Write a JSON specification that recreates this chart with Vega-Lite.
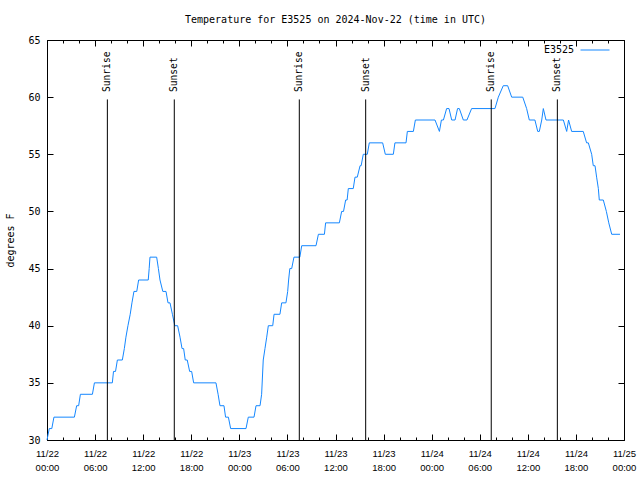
{
  "$schema": "https://vega.github.io/schema/vega-lite/v6.json",
  "width": 577,
  "height": 400,
  "autosize": {"type": "none"},
  "padding": {"left": 47, "top": 40, "right": 16, "bottom": 40},
  "background": "white",
  "config": {
    "view": {"stroke": "#000", "strokeWidth": 1},
    "font": "DejaVu Sans Mono",
    "axis": {
      "labelFont": "DejaVu Sans Mono",
      "labelFontSize": 10,
      "labelColor": "#000",
      "titleFont": "DejaVu Sans Mono",
      "titleFontSize": 10,
      "titleFontWeight": "normal",
      "titleColor": "#000",
      "ticks": true,
      "tickColor": "#000000",
      "tickOpacity": 1,
      "tickWidth": 1,
      "grid": false,
      "domain": false,
      "zindex": 2
    }
  },
  "title": {
    "text": "Temperature for E3525 on 2024-Nov-22 (time in UTC)",
    "font": "DejaVu Sans Mono",
    "fontSize": 10,
    "fontWeight": "normal",
    "color": "#000",
    "anchor": "middle",
    "offset": 10
  },
  "datasets": {
    "temps": [
      {"t": "2024-11-22T00:00:00Z", "temp": 30},
      {"t": "2024-11-22T00:17:00Z", "temp": 31},
      {"t": "2024-11-22T00:36:00Z", "temp": 31},
      {"t": "2024-11-22T00:52:00Z", "temp": 32},
      {"t": "2024-11-22T03:25:00Z", "temp": 32},
      {"t": "2024-11-22T03:42:00Z", "temp": 33},
      {"t": "2024-11-22T03:57:00Z", "temp": 33},
      {"t": "2024-11-22T04:10:00Z", "temp": 34},
      {"t": "2024-11-22T05:40:00Z", "temp": 34},
      {"t": "2024-11-22T05:55:00Z", "temp": 35},
      {"t": "2024-11-22T08:09:00Z", "temp": 35},
      {"t": "2024-11-22T08:18:00Z", "temp": 36},
      {"t": "2024-11-22T08:33:00Z", "temp": 36},
      {"t": "2024-11-22T08:47:00Z", "temp": 37},
      {"t": "2024-11-22T09:24:00Z", "temp": 37},
      {"t": "2024-11-22T09:39:00Z", "temp": 38},
      {"t": "2024-11-22T09:51:00Z", "temp": 39},
      {"t": "2024-11-22T10:06:00Z", "temp": 40},
      {"t": "2024-11-22T10:23:00Z", "temp": 41},
      {"t": "2024-11-22T10:36:00Z", "temp": 42},
      {"t": "2024-11-22T10:51:00Z", "temp": 43},
      {"t": "2024-11-22T11:12:00Z", "temp": 43},
      {"t": "2024-11-22T11:26:00Z", "temp": 44},
      {"t": "2024-11-22T12:38:00Z", "temp": 44},
      {"t": "2024-11-22T12:45:00Z", "temp": 45},
      {"t": "2024-11-22T12:51:00Z", "temp": 46},
      {"t": "2024-11-22T13:41:00Z", "temp": 46},
      {"t": "2024-11-22T13:54:00Z", "temp": 45},
      {"t": "2024-11-22T14:06:00Z", "temp": 44},
      {"t": "2024-11-22T14:27:00Z", "temp": 43},
      {"t": "2024-11-22T14:51:00Z", "temp": 43},
      {"t": "2024-11-22T15:06:00Z", "temp": 42},
      {"t": "2024-11-22T15:21:00Z", "temp": 42},
      {"t": "2024-11-22T15:39:00Z", "temp": 41},
      {"t": "2024-11-22T15:57:00Z", "temp": 40},
      {"t": "2024-11-22T16:18:00Z", "temp": 40},
      {"t": "2024-11-22T16:36:00Z", "temp": 39},
      {"t": "2024-11-22T16:51:00Z", "temp": 38},
      {"t": "2024-11-22T17:03:00Z", "temp": 38},
      {"t": "2024-11-22T17:15:00Z", "temp": 37},
      {"t": "2024-11-22T17:30:00Z", "temp": 37},
      {"t": "2024-11-22T17:48:00Z", "temp": 36},
      {"t": "2024-11-22T18:03:00Z", "temp": 36},
      {"t": "2024-11-22T18:18:00Z", "temp": 35},
      {"t": "2024-11-22T21:05:00Z", "temp": 35},
      {"t": "2024-11-22T21:21:00Z", "temp": 34},
      {"t": "2024-11-22T21:35:00Z", "temp": 33},
      {"t": "2024-11-22T22:05:00Z", "temp": 33},
      {"t": "2024-11-22T22:17:00Z", "temp": 32},
      {"t": "2024-11-22T22:38:00Z", "temp": 32},
      {"t": "2024-11-22T22:55:00Z", "temp": 31},
      {"t": "2024-11-23T00:50:00Z", "temp": 31},
      {"t": "2024-11-23T01:07:00Z", "temp": 32},
      {"t": "2024-11-23T01:50:00Z", "temp": 32},
      {"t": "2024-11-23T02:05:00Z", "temp": 33},
      {"t": "2024-11-23T02:35:00Z", "temp": 33},
      {"t": "2024-11-23T02:47:00Z", "temp": 34},
      {"t": "2024-11-23T02:59:00Z", "temp": 37},
      {"t": "2024-11-23T03:12:00Z", "temp": 38},
      {"t": "2024-11-23T03:25:00Z", "temp": 39},
      {"t": "2024-11-23T03:37:00Z", "temp": 40},
      {"t": "2024-11-23T04:10:00Z", "temp": 40},
      {"t": "2024-11-23T04:20:00Z", "temp": 41},
      {"t": "2024-11-23T05:04:00Z", "temp": 41},
      {"t": "2024-11-23T05:17:00Z", "temp": 42},
      {"t": "2024-11-23T05:49:00Z", "temp": 42},
      {"t": "2024-11-23T06:02:00Z", "temp": 43},
      {"t": "2024-11-23T06:09:00Z", "temp": 44},
      {"t": "2024-11-23T06:18:00Z", "temp": 45},
      {"t": "2024-11-23T06:32:00Z", "temp": 45},
      {"t": "2024-11-23T06:49:00Z", "temp": 46},
      {"t": "2024-11-23T07:33:00Z", "temp": 46},
      {"t": "2024-11-23T07:47:00Z", "temp": 47},
      {"t": "2024-11-23T09:34:00Z", "temp": 47},
      {"t": "2024-11-23T09:52:00Z", "temp": 48},
      {"t": "2024-11-23T10:37:00Z", "temp": 48},
      {"t": "2024-11-23T10:46:00Z", "temp": 49},
      {"t": "2024-11-23T12:29:00Z", "temp": 49},
      {"t": "2024-11-23T12:46:00Z", "temp": 50},
      {"t": "2024-11-23T13:00:00Z", "temp": 50},
      {"t": "2024-11-23T13:16:00Z", "temp": 51},
      {"t": "2024-11-23T13:27:00Z", "temp": 51},
      {"t": "2024-11-23T13:36:00Z", "temp": 52},
      {"t": "2024-11-23T14:13:00Z", "temp": 52},
      {"t": "2024-11-23T14:26:00Z", "temp": 53},
      {"t": "2024-11-23T14:43:00Z", "temp": 53},
      {"t": "2024-11-23T15:04:00Z", "temp": 54},
      {"t": "2024-11-23T15:12:00Z", "temp": 54},
      {"t": "2024-11-23T15:28:00Z", "temp": 55},
      {"t": "2024-11-23T15:58:00Z", "temp": 55},
      {"t": "2024-11-23T16:13:00Z", "temp": 56},
      {"t": "2024-11-23T17:53:00Z", "temp": 56},
      {"t": "2024-11-23T18:13:00Z", "temp": 55},
      {"t": "2024-11-23T19:13:00Z", "temp": 55},
      {"t": "2024-11-23T19:25:00Z", "temp": 56},
      {"t": "2024-11-23T20:48:00Z", "temp": 56},
      {"t": "2024-11-23T20:58:00Z", "temp": 57},
      {"t": "2024-11-23T21:43:00Z", "temp": 57},
      {"t": "2024-11-23T21:58:00Z", "temp": 58},
      {"t": "2024-11-24T00:25:00Z", "temp": 58},
      {"t": "2024-11-24T00:58:00Z", "temp": 57},
      {"t": "2024-11-24T01:13:00Z", "temp": 58},
      {"t": "2024-11-24T01:28:00Z", "temp": 58},
      {"t": "2024-11-24T01:52:00Z", "temp": 59},
      {"t": "2024-11-24T02:10:00Z", "temp": 59},
      {"t": "2024-11-24T02:30:00Z", "temp": 58},
      {"t": "2024-11-24T02:55:00Z", "temp": 58},
      {"t": "2024-11-24T03:14:00Z", "temp": 59},
      {"t": "2024-11-24T03:27:00Z", "temp": 59},
      {"t": "2024-11-24T03:57:00Z", "temp": 58},
      {"t": "2024-11-24T04:24:00Z", "temp": 58},
      {"t": "2024-11-24T04:59:00Z", "temp": 59},
      {"t": "2024-11-24T07:54:00Z", "temp": 59},
      {"t": "2024-11-24T08:19:00Z", "temp": 60},
      {"t": "2024-11-24T08:56:00Z", "temp": 61},
      {"t": "2024-11-24T09:29:00Z", "temp": 61},
      {"t": "2024-11-24T09:59:00Z", "temp": 60},
      {"t": "2024-11-24T11:22:00Z", "temp": 60},
      {"t": "2024-11-24T11:51:00Z", "temp": 59},
      {"t": "2024-11-24T12:11:00Z", "temp": 58},
      {"t": "2024-11-24T12:53:00Z", "temp": 58},
      {"t": "2024-11-24T13:14:00Z", "temp": 57},
      {"t": "2024-11-24T13:26:00Z", "temp": 57},
      {"t": "2024-11-24T13:44:00Z", "temp": 58},
      {"t": "2024-11-24T13:56:00Z", "temp": 59},
      {"t": "2024-11-24T14:16:00Z", "temp": 58},
      {"t": "2024-11-24T16:26:00Z", "temp": 58},
      {"t": "2024-11-24T16:51:00Z", "temp": 57},
      {"t": "2024-11-24T17:05:00Z", "temp": 58},
      {"t": "2024-11-24T17:28:00Z", "temp": 57},
      {"t": "2024-11-24T18:55:00Z", "temp": 57},
      {"t": "2024-11-24T19:20:00Z", "temp": 56},
      {"t": "2024-11-24T19:33:00Z", "temp": 56},
      {"t": "2024-11-24T19:58:00Z", "temp": 55},
      {"t": "2024-11-24T20:10:00Z", "temp": 54},
      {"t": "2024-11-24T20:23:00Z", "temp": 54},
      {"t": "2024-11-24T20:35:00Z", "temp": 53},
      {"t": "2024-11-24T20:48:00Z", "temp": 52},
      {"t": "2024-11-24T20:55:00Z", "temp": 51},
      {"t": "2024-11-24T21:25:00Z", "temp": 51},
      {"t": "2024-11-24T21:48:00Z", "temp": 50},
      {"t": "2024-11-24T22:06:00Z", "temp": 49},
      {"t": "2024-11-24T22:28:00Z", "temp": 48},
      {"t": "2024-11-24T23:30:00Z", "temp": 48}
    ],
    "sun": [
      {"t": "2024-11-22T07:32:00Z", "event": "Sunrise"},
      {"t": "2024-11-22T15:53:00Z", "event": "Sunset"},
      {"t": "2024-11-23T07:29:00Z", "event": "Sunrise"},
      {"t": "2024-11-23T15:46:00Z", "event": "Sunset"},
      {"t": "2024-11-24T07:26:00Z", "event": "Sunrise"},
      {"t": "2024-11-24T15:41:00Z", "event": "Sunset"}
    ]
  },
  "layer": [
    {
      "data": {"name": "temps"},
      "mark": {"type": "line", "strokeWidth": 1},
      "encoding": {
        "x": {
          "field": "t",
          "type": "temporal",
          "scale": {"type": "utc", "domain": [1732233600000, 1732492800000]},
          "axis": {
            "orient": "bottom",
            "title": null,
            "values": [1732233600000, 1732255200000, 1732276800000, 1732298400000, 1732320000000, 1732341600000, 1732363200000, 1732384800000, 1732406400000, 1732428000000, 1732449600000, 1732471200000, 1732492800000],
            "labelExpr": "[(utcmonth(datum.value) + 1) + '/' + utcdate(datum.value), (utchours(datum.value) < 10 ? '0' : '') + utchours(datum.value) + ':00']",
            "offset": -6,
            "ticks": true,
            "tickSize": 6,
            "labelPadding": 8,
            "labelFont": "Liberation Sans",
            "labelFontSize": 9.5,
            "labelLineHeight": 14,
            "labelBaseline": "top",
            "labelDx": -5,
            "labelFlush": false,
            "labelOverlap": false
          }
        },
        "y": {
          "field": "temp",
          "type": "quantitative",
          "scale": {"domain": [30, 65], "nice": false, "zero": false},
          "axis": {
            "orient": "left",
            "title": "degrees F",
            "values": [30, 35, 40, 45, 50, 55, 60, 65],
            "offset": -6,
            "ticks": true,
            "tickSize": 6,
            "labelPadding": 7,
            "titlePadding": 12
          }
        },
        "color": {
          "datum": "E3525",
          "scale": {"range": ["#1487ff"]},
          "legend": {
            "title": null,
            "orient": "none",
            "legendX": 533,
            "legendY": -5,
            "padding": 0,
            "symbolType": "stroke",
            "symbolSize": 841,
            "symbolStrokeWidth": 1,
            "labelAlign": "right",
            "labelOffset": -36,
            "labelFont": "DejaVu Sans Mono",
            "labelFontSize": 10,
            "labelColor": "#000"
          }
        }
      }
    },
    {
      "data": {"name": "sun"},
      "mark": {"type": "rule", "color": "#000", "strokeWidth": 1},
      "encoding": {
        "x": {
          "field": "t",
          "type": "temporal",
          "axis": {
            "orient": "bottom",
            "title": null,
            "labels": false,
            "values": [1732233600000, 1732240800000, 1732248000000, 1732255200000, 1732262400000, 1732269600000, 1732276800000, 1732284000000, 1732291200000, 1732298400000, 1732305600000, 1732312800000, 1732320000000, 1732327200000, 1732334400000, 1732341600000, 1732348800000, 1732356000000, 1732363200000, 1732370400000, 1732377600000, 1732384800000, 1732392000000, 1732399200000, 1732406400000, 1732413600000, 1732420800000, 1732428000000, 1732435200000, 1732442400000, 1732449600000, 1732456800000, 1732464000000, 1732471200000, 1732478400000, 1732485600000, 1732492800000],
            "offset": -3,
            "ticks": true,
            "tickSize": 3
          }
        },
        "y": {
          "datum": 30,
          "type": "quantitative",
          "axis": {
            "orient": "right",
            "title": null,
            "labels": false,
            "values": [30, 35, 40, 45, 50, 55, 60, 65],
            "offset": -6,
            "ticks": true,
            "tickSize": 6
          }
        },
        "y2": {"datum": 59.8}
      }
    },
    {
      "data": {"name": "sun"},
      "transform": [{"filter": "datum.event === 'Sunrise'"}],
      "mark": {"type": "text", "angle": 270, "align": "left", "baseline": "middle", "font": "DejaVu Sans Mono", "fontSize": 9.6, "color": "#000"},
      "encoding": {
        "x": {
          "field": "t",
          "type": "temporal",
          "axis": {
            "orient": "top",
            "title": null,
            "labels": false,
            "values": [1732233600000, 1732255200000, 1732276800000, 1732298400000, 1732320000000, 1732341600000, 1732363200000, 1732384800000, 1732406400000, 1732428000000, 1732449600000, 1732471200000, 1732492800000],
            "offset": -6,
            "ticks": true,
            "tickSize": 6
          }
        },
        "y": {"datum": 60.45, "type": "quantitative", "axis": null},
        "text": {"field": "event"}
      }
    },
    {
      "data": {"name": "sun"},
      "transform": [{"filter": "datum.event === 'Sunset'"}],
      "mark": {"type": "text", "angle": 270, "align": "left", "baseline": "middle", "font": "DejaVu Sans Mono", "fontSize": 9.6, "color": "#000"},
      "encoding": {
        "x": {
          "field": "t",
          "type": "temporal",
          "axis": {
            "orient": "top",
            "title": null,
            "labels": false,
            "values": [1732233600000, 1732240800000, 1732248000000, 1732255200000, 1732262400000, 1732269600000, 1732276800000, 1732284000000, 1732291200000, 1732298400000, 1732305600000, 1732312800000, 1732320000000, 1732327200000, 1732334400000, 1732341600000, 1732348800000, 1732356000000, 1732363200000, 1732370400000, 1732377600000, 1732384800000, 1732392000000, 1732399200000, 1732406400000, 1732413600000, 1732420800000, 1732428000000, 1732435200000, 1732442400000, 1732449600000, 1732456800000, 1732464000000, 1732471200000, 1732478400000, 1732485600000, 1732492800000],
            "offset": -3,
            "ticks": true,
            "tickSize": 3
          }
        },
        "y": {"datum": 60.45, "type": "quantitative", "axis": null},
        "text": {"field": "event"}
      }
    }
  ],
  "resolve": {"axis": {"x": "independent", "y": "independent"}}
}
